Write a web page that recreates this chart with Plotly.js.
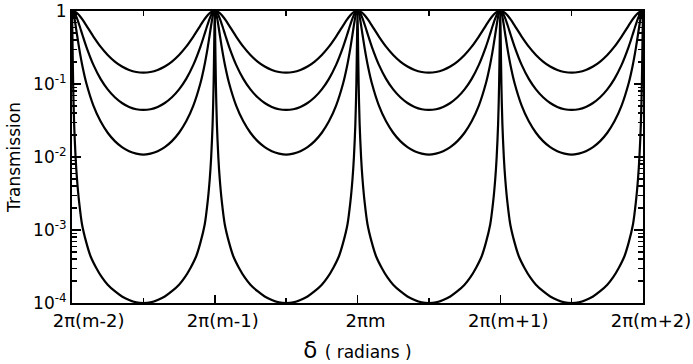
<!DOCTYPE html>
<html>
<head>
<meta charset="utf-8">
<script src="https://cdn.plot.ly/plotly-3.0.1.min.js"></script>
<style>html,body{margin:0;padding:0;background:#fff;}#chart{width:693px;height:364px;}</style>
</head>
<body>
<div id="chart"></div>
<script>
// Positions along delta in units of 2*pi, starting at 2pi(m-2)
const xTickVals = [0, 1, 2, 3, 4];
const xTickText = ["\u00a0\u00a0\u00a02\u03c0(m-2)", "2\u03c0(m-1)", "2\u03c0m", "2\u03c0(m+1)", "2\u03c0(m+2)"];
const yTickVals = [1e-4, 1e-3, 1e-2, 1e-1, 1];
const yTickText = ["10<sup>-4</sup>", "10<sup>-3</sup>", "10<sup>-2</sup>", "10<sup>-1</sup>", "1"];
const periods = 4;

// Half-period profiles (offset from a transmission peak, fraction of a period)
const offsetsA = [0, 0.01, 0.02, 0.035, 0.05, 0.075, 0.1, 0.15, 0.2, 0.25, 0.3, 0.35, 0.4, 0.45, 0.5];
const curve1 = [1, 0.994, 0.977, 0.933, 0.872, 0.754, 0.636, 0.447, 0.325, 0.25, 0.203, 0.1735, 0.1556, 0.1459, 0.1429];
const curve2 = [1, 0.979, 0.921, 0.793, 0.653, 0.458, 0.3255, 0.1827, 0.1177, 0.0844, 0.0658, 0.0549, 0.0485, 0.0451, 0.0441];
const curve3 = [1, 0.918, 0.736, 0.477, 0.310, 0.168, 0.1032, 0.0506, 0.0308, 0.0215, 0.0165, 0.01365, 0.0120, 0.01114, 0.01075];
const offsetsB = [0, 0.003, 0.008, 0.015, 0.025, 0.035, 0.05, 0.07, 0.1, 0.13, 0.17, 0.21, 0.25, 0.3, 0.35, 0.4, 0.45, 0.5];
const curve4 = [1, 0.447, 0.1, 0.0282, 0.01, 0.005, 0.0024, 0.0012, 6.76e-4, 4.37e-4, 3.02e-4, 2.24e-4, 1.78e-4, 1.45e-4, 1.23e-4, 1.10e-4, 1.02e-4, 1.0e-4];

// Lay the measured half-period profile across every period (rising and falling halves)
function series(offsets, vals) {
  const xs = [], ys = [];
  for (let k = 0; k < periods; k++) {
    for (let i = 0; i < offsets.length; i++) {
      if (k > 0 && i === 0) continue;
      xs.push(k + offsets[i]); ys.push(vals[i]);
    }
    for (let i = offsets.length - 2; i >= 0; i--) {
      xs.push(k + 1 - offsets[i]); ys.push(vals[i]);
    }
  }
  return {x: xs, y: ys};
}

const line = {color: '#000', width: 2.2, shape: 'spline', smoothing: 0.8};
const traces = [[offsetsA, curve1], [offsetsA, curve2], [offsetsA, curve3], [offsetsB, curve4]].map(([o, v]) => {
  const s = series(o, v);
  return {x: s.x, y: s.y, type: 'scatter', mode: 'lines', line: line, hoverinfo: 'skip', showlegend: false};
});

const minorY = [];
for (let e = -4; e < 0; e++) for (let d = 2; d <= 9; d++) minorY.push(d * Math.pow(10, e));

const font = {family: 'DejaVu Sans, Liberation Sans, sans-serif', color: '#000'};
const layout = {
  width: 693, height: 364,
  margin: {l: 72, r: 50, t: 11, b: 61},
  paper_bgcolor: '#fff', plot_bgcolor: '#fff',
  showlegend: false,
  font: font,
  xaxis: {
    range: [0, 4], tickmode: 'array', tickvals: xTickVals, ticktext: xTickText,
    ticks: 'inside', ticklen: 8, tickwidth: 1.5, tickcolor: '#000',
    minor: {tickmode: 'array', tickvals: [0.5, 1.5, 2.5, 3.5], ticks: 'inside', ticklen: 5, tickwidth: 1.5, tickcolor: '#000'},
    showline: true, linecolor: '#000', linewidth: 2, mirror: 'ticks',
    showgrid: false, zeroline: false, ticklabelshift: 8,
    tickfont: {family: font.family, size: 18, color: '#000'},
    title: {text: "\u03b4 <span style='font-size:17px'>( radians )</span>", font: {family: font.family, size: 23, color: '#000'}, standoff: 12}
  },
  yaxis: {
    type: 'log', range: [-4, 0], tickmode: 'array', tickvals: yTickVals, ticktext: yTickText,
    ticks: 'inside', ticklen: 9, tickwidth: 1.5, tickcolor: '#000',
    minor: {tickmode: 'array', tickvals: minorY, ticks: 'inside', ticklen: 5, tickwidth: 1.2, tickcolor: '#000'},
    showline: true, linecolor: '#000', linewidth: 2, mirror: 'ticks',
    showgrid: false, zeroline: false,
    tickfont: {family: font.family, size: 17, color: '#000'},
    title: {text: 'Transmission', font: {family: font.family, size: 17, color: '#000'}, standoff: 8}
  }
};

Plotly.newPlot('chart', traces, layout, {staticPlot: true, displayModeBar: false});
</script>
</body>
</html>
